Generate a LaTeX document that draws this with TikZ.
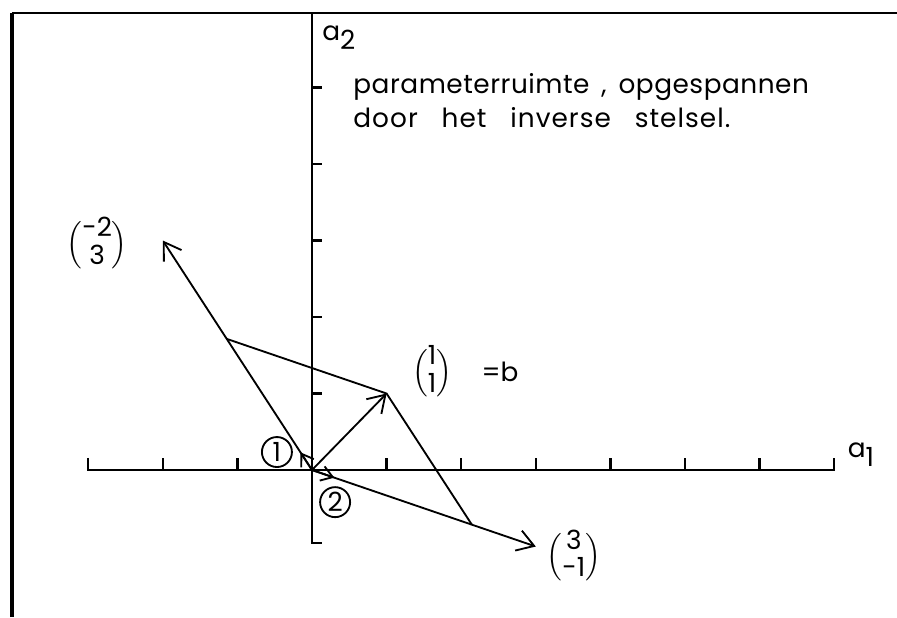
\documentclass[tikz,border=0pt]{standalone}
\usepackage{fontspec}
\setmainfont{Poppins}
\usetikzlibrary{arrows.meta}
\newcommand\colvec[2]{$\Bigl(\renewcommand\arraystretch{.8}\begin{tabular}{@{}c@{}}#1\\#2\end{tabular}\Bigr)$}
\newcommand\wgap{\hspace{.9em}}
\tikzset{
  frameline/.style={line width=1pt},
  axisline/.style={line width=.9pt},
  vecline/.style={line width=.7pt},
  vecarrow/.style={vecline,-{Straight Barb[length=2.2mm,width=2.8mm]}},
  tinyarrow/.style={vecline,-{Straight Barb[length=1.5mm,width=2mm]}},
  numcircle/.style={circle,draw,line width=.7pt,inner sep=0pt,minimum size=4mm}
}

\begin{document}
\begin{tikzpicture}[x=0.9947cm,y=1.02cm,font=\fontsize{10}{13}\selectfont]
    \useasboundingbox (-4.182,-1.922) rectangle (7.842,6.144);
    \draw[frameline,line width=1.3pt] (-4.02,-1.922) -- (-4.02,5.974);
    \draw[frameline] (-4.02,5.974) -- (7.842,5.974);
    \draw[axisline] (-3,0.16) -- (-3,0) -- (7,0) -- (7,0.16);
    \foreach \x in {-2,-1,1,2,3,4,5,6}
      \draw[axisline] (\x,0) -- (\x,0.16);
    \draw[axisline] (0,5.974) -- (0,-0.95) -- (0.13,-0.95);
    \foreach \y in {1,...,5}
      \draw[axisline] (0,\y) -- (0.13,\y);
    \coordinate (O) at (0,0);
    \coordinate (b) at (1,1);
    \coordinate (v1) at (-2,3);
    \coordinate (v2) at (3,-1);
    \coordinate (p1) at (-8/7,12/7);
    \coordinate (p2) at (15/7,-5/7);
    \coordinate (w1) at (-2/13,3/13);
    \coordinate (w2) at (0.3,-0.1);
    \draw[vecarrow] (O) -- (v1);
    \draw[vecarrow] (O) -- (v2);
    \draw[vecarrow] (O) -- (b);
    \draw[vecline] (p1) -- (b) -- (p2);
    \draw[tinyarrow] (O) -- (w1);
    \draw[tinyarrow] (O) -- (w2);
    \node[numcircle] (c1) at (-0.47,0.235) {1};
    \node[numcircle] (c2) at (0.31,-0.42) {2};
    \node (lab2) at (0.36,5.65) {a\raisebox{-.6ex}{2}};
    \node (lab1) at (7.36,0.2) {a\raisebox{-.6ex}{1}};
    \node[anchor=west,align=left] (title) at (0.43,4.83)
      {{\addfontfeatures{LetterSpace=2}parameterruimte\hspace{.45em},\hspace{.45em}opgespannen}\\
       {\addfontfeatures{LetterSpace=4}door\wgap het\wgap inverse\wgap stelsel.}};
    \node (vecA) at (-2.88,2.94) {\colvec{-2}{3}};
    \node (vecB) at (1.61,1.27) {\colvec{1}{1}};
    \node[anchor=west] (eqb) at (2.15,1.28) {=b};
    \node (vecC) at (3.51,-1.14) {\colvec{3}{-1}};
  \end{tikzpicture}
\end{document}
